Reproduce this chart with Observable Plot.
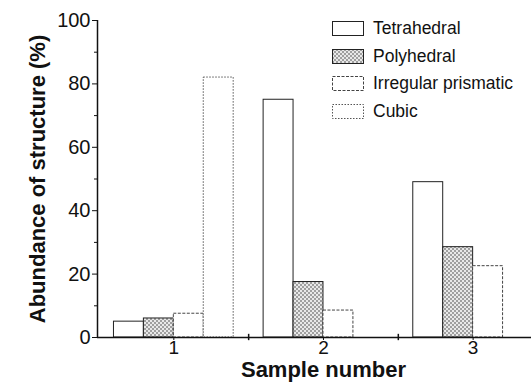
<!DOCTYPE html>
<html><head><meta charset="utf-8">
<script src="https://cdn.jsdelivr.net/npm/d3@7"></script>
<script src="https://cdn.jsdelivr.net/npm/@observablehq/plot@0.6"></script>
<style>
body{margin:0;background:#fff;}
#chart{position:relative;width:531px;height:385px;font-family:"Liberation Sans",Arial,Helvetica,sans-serif;}
#legend{position:absolute;left:332px;top:15px;}
.row{display:flex;align-items:center;height:27.5px;font-size:17.5px;color:#111;}
.row svg{margin-right:9px;display:block;}
</style></head><body>
<svg width="0" height="0" style="position:absolute">
  <defs>
    <pattern id="dots" width="4" height="4" patternUnits="userSpaceOnUse">
      <rect width="4" height="4" fill="#e8e8e8"/>
      <circle cx="1" cy="1" r="0.75" fill="#333"/>
      <circle cx="3" cy="3" r="0.75" fill="#333"/>
    </pattern>
  </defs>
</svg>
<div id="chart"><div id="legend"></div></div>
<script>
const samples = [1, 2, 3];
const series = ["Tetrahedral", "Polyhedral", "Irregular prismatic", "Cubic"];
const tetrahedral = [5, 75, 49];
const polyhedral = [6, 17.5, 28.5];
const irregular = [7.5, 8.5, 22.5];
const cubic = [82, 0, 0];
const yTicks = [0, 20, 40, 60, 80, 100];
const yMinor = [10, 30, 50, 70, 90];
const xTicks = [1, 2, 3];
const xMinor = [1.5, 2.5];
const xDomain = [0.49, 3.39];

const valuesBySeries = [tetrahedral, polyhedral, irregular, cubic];
const barWidth = 0.2;
const table = [];
series.forEach((s, i) => {
  samples.forEach((smp, j) => {
    const v = valuesBySeries[i][j];
    if (v > 0) table.push({sample: smp, series: s, value: v,
      x1: smp - 2 * barWidth + i * barWidth, x2: smp - barWidth + i * barWidth});
  });
});

const styles = {
  "Tetrahedral": {fill: "white", stroke: "#222", dash: null, sw: 1},
  "Polyhedral": {fill: "url(#dots)", stroke: "#222", dash: null, sw: 1},
  "Irregular prismatic": {fill: "white", stroke: "#444", dash: "3,1.5", sw: 1},
  "Cubic": {fill: "white", stroke: "#555", dash: "1.5,1.5", sw: 1}
};

const barMarks = series.map(s => Plot.rect(table.filter(d => d.series === s), {
  x1: "x1", x2: "x2", y1: 0, y2: "value",
  fill: styles[s].fill, stroke: styles[s].stroke,
  strokeDasharray: styles[s].dash, strokeWidth: styles[s].sw
}));

const plot = Plot.plot({
  width: 531, height: 385,
  marginLeft: 97, marginRight: 0, marginTop: 20, marginBottom: 48,
  style: {fontFamily: "Liberation Sans, Arial, sans-serif", background: "white", color: "#111"},
  x: {domain: xDomain},
  y: {domain: [0, 100]},
  marks: [
    ...barMarks,
    Plot.ruleY([0], {stroke: "#111", strokeWidth: 1.5}),
    Plot.ruleX([xDomain[0]], {stroke: "#111", strokeWidth: 1.5}),
    Plot.axisY({ticks: yTicks, tickSize: 5, tickPadding: 2, fontSize: 20, label: null, stroke: "#111", fill: "#111"}),
    Plot.axisY({ticks: yMinor, tickSize: 3, tickFormat: () => "", label: null, stroke: "#111"}),
    Plot.axisX({ticks: xTicks, tickSize: 3, tickPadding: 0, fontSize: 19, tickFormat: d3.format("d"), label: null, stroke: "#111", fill: "#111"}),
    Plot.ruleX(xMinor, {x: d => d, y1: -1, y2: 1, stroke: "#111", strokeWidth: 1.5}),
    Plot.text(["Sample number"], {x: samples[1], frameAnchor: "bottom", dy: 39, fontSize: 22, fontWeight: "bold", fill: "#111"}),
    Plot.text(["Abundance of structure (%)"], {frameAnchor: "left", dx: -60, rotate: -90, textAnchor: "middle", fontSize: 22, fontWeight: "bold", fill: "#111"})
  ]
});
document.getElementById("chart").prepend(plot);

const legend = d3.select("#legend");
series.forEach(s => {
  const row = legend.append("div").attr("class", "row");
  const sv = row.append("svg").attr("width", 32).attr("height", 15);
  sv.append("rect").attr("x", 0.5).attr("y", 0.5).attr("width", 31).attr("height", 14)
    .attr("fill", styles[s].fill).attr("stroke", styles[s].stroke)
    .attr("stroke-dasharray", styles[s].dash).attr("stroke-width", styles[s].sw);
  row.append("span").text(s);
});
</script>
</body></html>
